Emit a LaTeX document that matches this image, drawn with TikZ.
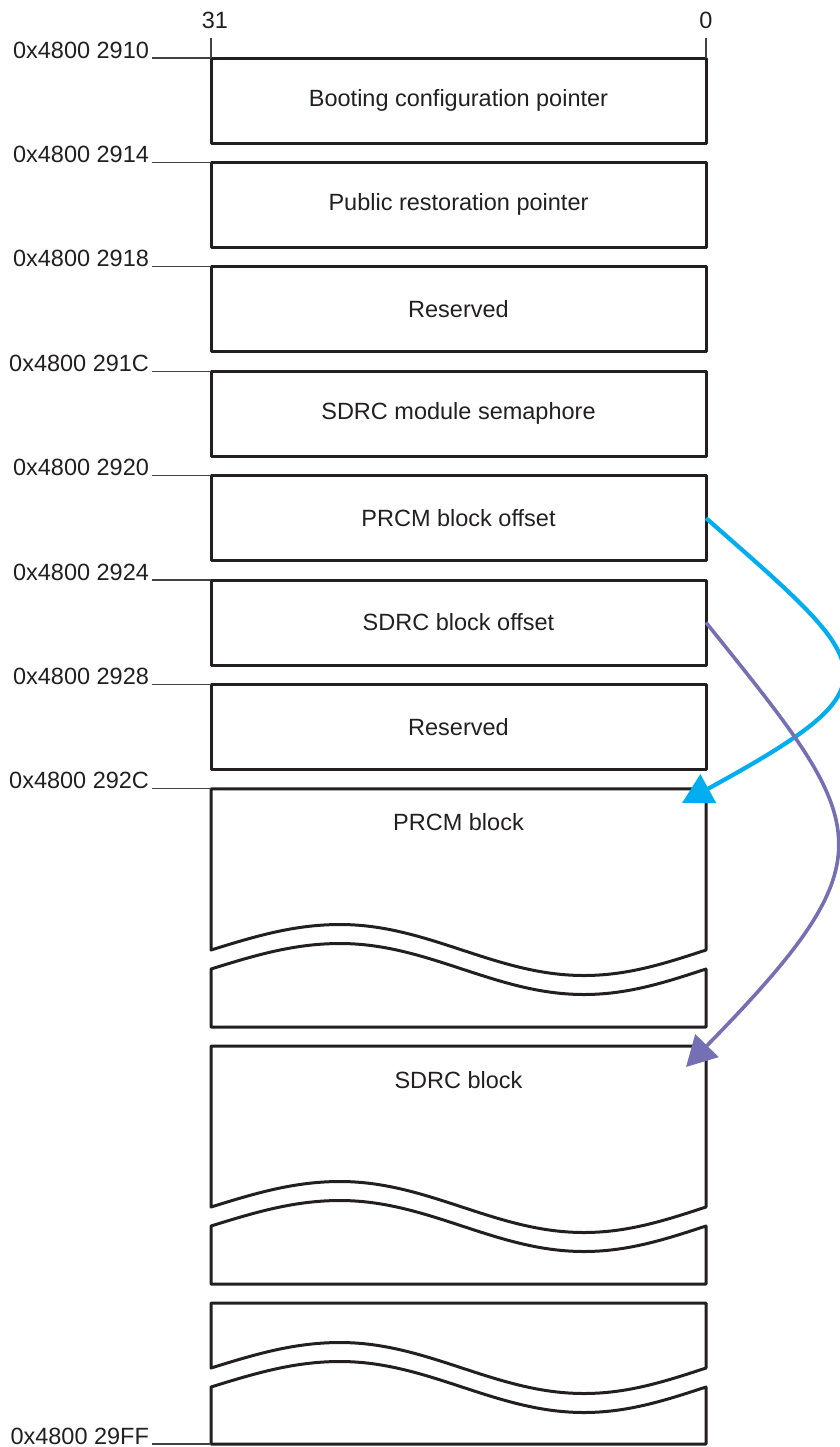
\documentclass[tikz,border=0pt]{standalone}
\usepackage{fontspec}
\setmainfont{Liberation Sans}
\usetikzlibrary{arrows.meta}
\definecolor{ink}{HTML}{231F20}
\definecolor{cyanarrow}{HTML}{00AEEF}
\definecolor{purplearrow}{HTML}{7570B3}
\begin{document}
\begin{tikzpicture}[x=0.5pt,y=-0.5pt,
  every node/.style={font=\fontsize{11.75}{14}\selectfont, text=ink},
  memcell/.style={draw=ink, line width=1.5pt, line join=round, rectangle, minimum width=247.5pt, minimum height=42.5pt, inner sep=0pt, outer sep=0pt},
  blockline/.style={draw=ink, line width=1.5pt, line join=round},
  addr/.style={anchor=base east, inner xsep=1.5pt, inner ysep=0pt, outer sep=0pt},
  leader/.style={draw=ink!85, line width=0.55pt},
  bitnum/.style={anchor=base, inner sep=0pt},
  ptr/.style={line width=2.1pt, -{Triangle[length=15pt,width=16pt]}},
]
\useasboundingbox (0,0) rectangle (840,1447);

% regular cells
\node[memcell] (b1) at (458.5,100.5) {Booting configuration pointer};
\node[memcell] (b2) at (458.5,204.9) {Public restoration pointer};
\node[memcell] (b3) at (458.5,309.3) {Reserved};
\node[memcell] (b4) at (458.5,413.7) {SDRC module semaphore};
\node[memcell] (b5) at (458.5,518.1) {PRCM block offset};
\node[memcell] (b6) at (458.5,622.5) {SDRC block offset};
\node[memcell] (b7) at (458.5,726.9) {Reserved};

% PRCM block (broken)
\coordinate (prcm) at (211,788.8);
\draw[blockline] (prcm) -- (706,788.8) -- (706,950) sin (584,975.5) cos (462,950) sin (340,924.5) cos (211,950) -- cycle;
\draw[blockline] (211,969) sin (340,943.5) cos (462,969) sin (584,994.5) cos (706,969) -- (706,1027) -- (211,1027) -- cycle;
\node (prcmtxt) at (458.5,822) {PRCM block};

% SDRC block (broken)
\draw[blockline] (211,1046) -- (706,1046) -- (706,1207) sin (584,1232.5) cos (462,1207) sin (340,1181.5) cos (211,1207) -- cycle;
\draw[blockline] (211,1226) sin (340,1200.5) cos (462,1226) sin (584,1251.5) cos (706,1226) -- (706,1284) -- (211,1284) -- cycle;
\node (sdrctxt) at (458.5,1080) {SDRC block};

% last block (broken)
\coordinate (endbl) at (211,1444);
\draw[blockline] (211,1303) -- (706,1303) -- (706,1368) sin (584,1393.5) cos (462,1368) sin (340,1342.5) cos (211,1368) -- cycle;
\draw[blockline] (211,1387) sin (340,1361.5) cos (462,1387) sin (584,1412.5) cos (706,1387) -- (706,1444) -- (endbl) -- cycle;

% bit numbers
\node[bitnum] (msb) at (215,28) {31};
\node[bitnum] (lsb) at (706,28) {0};
\coordinate (t31) at (211,38);
\coordinate (t0) at (706,38);
\draw[leader] (t31) -- (b1.north west);
\draw[leader] (t0) -- (b1.north east);

% addresses
\node[addr] (a1) at (152,58) {0x4800 2910};
\node[addr] (a2) at (152,162.4) {0x4800 2914};
\node[addr] (a3) at (152,266.8) {0x4800 2918};
\node[addr] (a4) at (152,371.2) {0x4800 291C};
\node[addr] (a5) at (152,475.6) {0x4800 2920};
\node[addr] (a6) at (152,580) {0x4800 2924};
\node[addr] (a7) at (152,684.4) {0x4800 2928};
\node[addr] (a8) at (152,788.8) {0x4800 292C};
\node[addr] (a9) at (152,1444) {0x4800 29FF};
\draw[leader] (a1.base east) -- (b1.north west);
\draw[leader] (a2.base east) -- (b2.north west);
\draw[leader] (a3.base east) -- (b3.north west);
\draw[leader] (a4.base east) -- (b4.north west);
\draw[leader] (a5.base east) -- (b5.north west);
\draw[leader] (a6.base east) -- (b6.north west);
\draw[leader] (a7.base east) -- (b7.north west);
\draw[leader] (a8.base east) -- (prcm);
\draw[leader] (a9.base east) -- (endbl);

% pointers
\coordinate (prcmtip) at (682,803);
\coordinate (sdrctip) at (686,1067);
\draw[ptr, cyanarrow] (b5.east) .. controls (879,670) and (901,683) .. (prcmtip);
\draw[ptr, purplearrow, line width=1.8pt] (b6.east) .. controls (869.5,826) and (896,852.5) .. (sdrctip);
\end{tikzpicture}
\end{document}
